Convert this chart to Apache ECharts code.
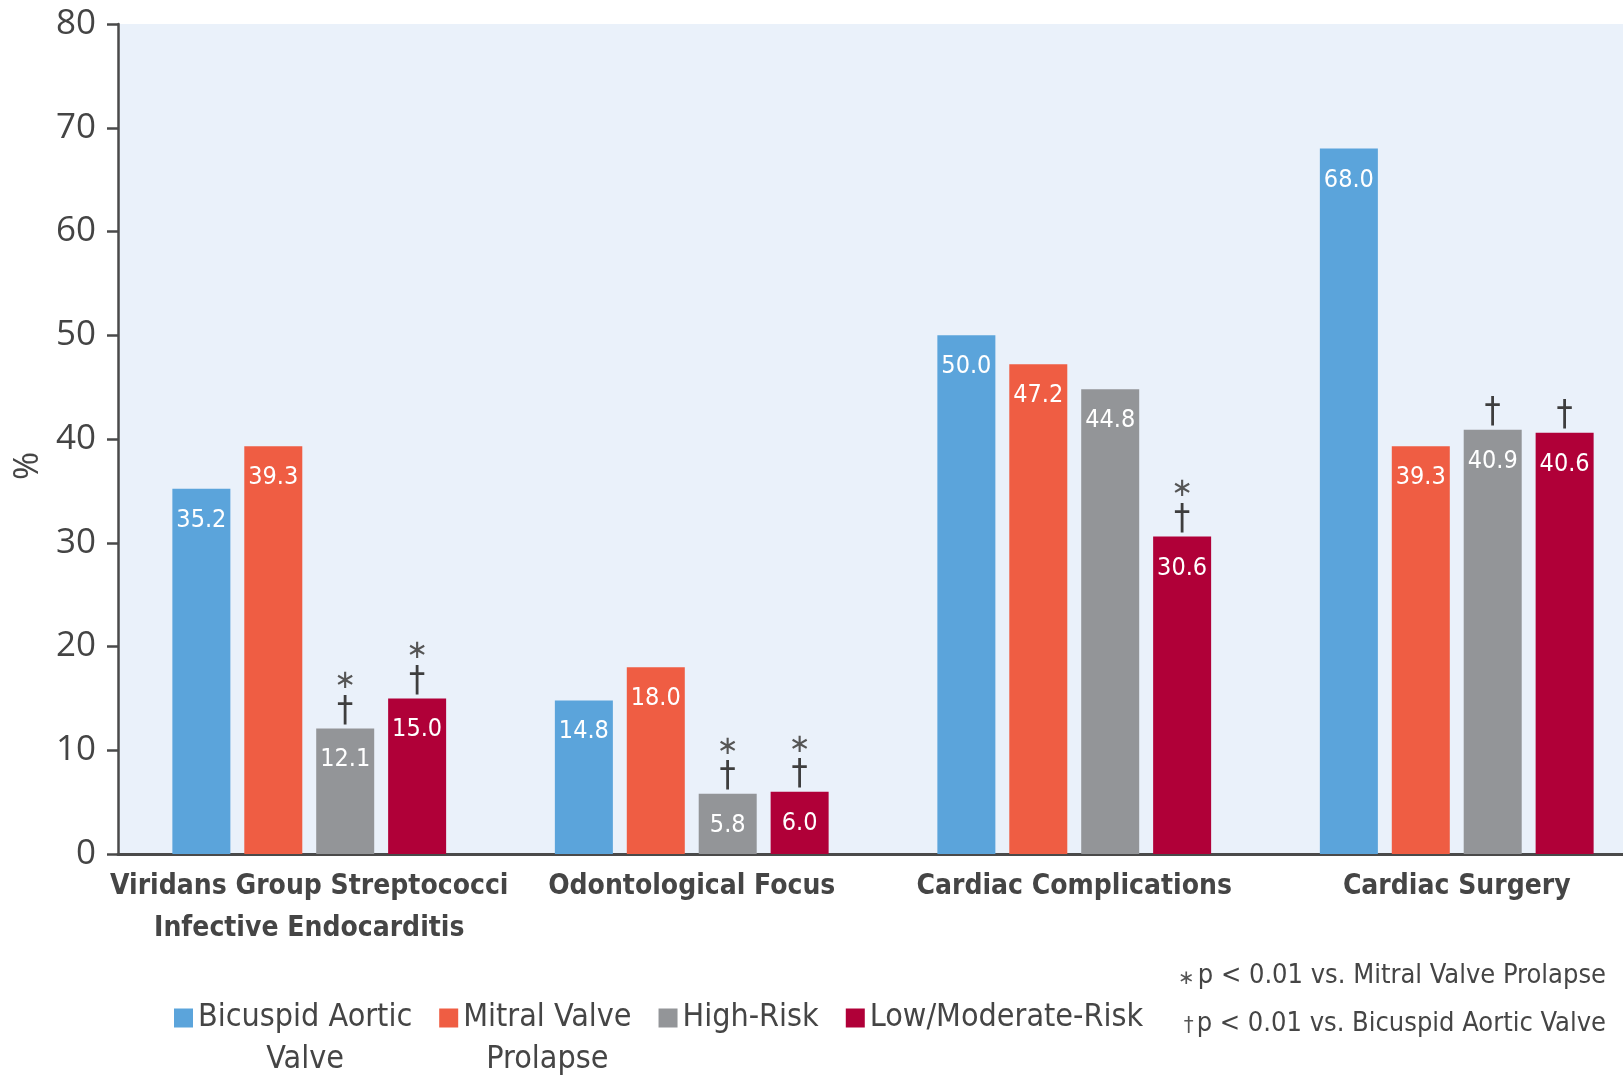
<!DOCTYPE html>
<html>
<head>
<meta charset="utf-8">
<script src="https://cdn.jsdelivr.net/npm/echarts@6/dist/echarts.min.js"></script>
<style>
  html, body { margin: 0; padding: 0; background: #fff; overflow: hidden; }
  /* 原图右侧被裁掉一截，画布比窗口宽一些 */
  #chart { width: 1650px; height: 1075px; }
</style>
</head>
<body>
<div id="chart"></div>
<script>
const categories = [
  'Viridans Group Streptococci\nInfective Endocarditis',
  'Odontological Focus',
  'Cardiac Complications',
  'Cardiac Surgery'
];
const seriesNames = ['Bicuspid Aortic Valve', 'Mitral Valve Prolapse', 'High-Risk', 'Low/Moderate-Risk'];
const bicuspidAortic = [35.2, 14.8, 50.0, 68.0];
const mitralProlapse = [39.3, 18.0, 47.2, 39.3];
const highRisk = [12.1, 5.8, 44.8, 40.9];
const lowModerateRisk = [15.0, 6.0, 30.6, 40.6];
// 显著性标记 (* vs MVP, † vs BAV)
const highRiskMarks = ['*†', '*†', '', '†'];
const lowModerateMarks = ['*†', '*†', '*†', '†'];
const yTicks = [0, 10, 20, 30, 40, 50, 60, 70, 80];

const colors = ['#5ba4db', '#ef5d43', '#939598', '#b00038'];
const narrow = "'DejaVu Sans Condensed', 'Liberation Sans Narrow', sans-serif";
const textColor = '#454545';

const chart = echarts.init(document.getElementById('chart'));

function mainSeries(name, data, color, stack) {
  return {
    name: name,
    type: 'bar',
    stack: stack,
    data: data,
    barWidth: 58,
    barGap: '24%',
    itemStyle: { color: color },
    label: {
      show: true,
      position: 'insideTop',
      distance: 19,
      color: '#fff',
      fontFamily: narrow,
      fontSize: 25,
      formatter: p => p.value.toFixed(1)
    }
  };
}

function markSeries(marks, stack) {
  return {
    type: 'bar',
    stack: stack,
    data: marks.map(() => 0),
    barWidth: 58,
    barGap: '24%',
    itemStyle: { color: 'transparent' },
    silent: true,
    label: {
      show: true,
      position: 'top',
      distance: 1,
      formatter: p => {
        const m = marks[p.dataIndex];
        if (!m) return '';
        const parts = [];
        if (m.indexOf('*') >= 0) parts.push('{s|∗}');
        if (m.indexOf('†') >= 0) parts.push('{d|†}');
        return parts.join('\n');
      },
      rich: {
        s: { fontFamily: 'DejaVu Sans', fontSize: 26, lineHeight: 28, color: '#555' },
        d: { fontFamily: narrow, fontSize: 36, lineHeight: 32, color: '#3e3e3e' }
      }
    }
  };
}

function legendName(name) {
  const lines = {
    'Bicuspid Aortic Valve': ['Bicuspid Aortic', 'Valve'],
    'Mitral Valve Prolapse': ['Mitral Valve', 'Prolapse']
  }[name] || [name, ' '];
  return '{a| }\n{a|' + lines[0] + '}\n{a|' + lines[1] + '}';
}

const option = {
  backgroundColor: '#fff',
  animation: false,
  grid: { left: 118, right: 2, top: 24, bottom: 221, show: true, backgroundColor: '#eaf1fa', borderWidth: 0 },
  legend: {
    data: seriesNames,
    left: 169,
    top: 955,
    itemWidth: 19,
    itemHeight: 19,
    itemGap: 27,
    icon: 'rect',
    formatter: legendName,
    textStyle: {
      rich: {
        a: { align: 'center', fontFamily: narrow, fontSize: 32, lineHeight: 42, color: textColor }
      }
    }
  },
  xAxis: {
    type: 'category',
    data: categories,
    axisLine: { lineStyle: { color: '#4a4a4a', width: 3 } },
    axisTick: { show: false },
    axisLabel: {
      interval: 0,
      margin: 12,
      color: textColor,
      fontFamily: narrow,
      fontWeight: 'bold',
      fontSize: 28,
      lineHeight: 42
    }
  },
  yAxis: {
    type: 'value',
    min: yTicks[0],
    max: yTicks[yTicks.length - 1],
    interval: 10,
    name: '%',
    nameLocation: 'middle',
    nameRotate: 90,
    nameGap: 64,
    nameTextStyle: { fontFamily: 'Open Sans', fontSize: 34, color: textColor, padding: [0, 54, 0, 0] },
    axisLine: { show: true, lineStyle: { color: '#4a4a4a', width: 2.5 } },
    axisTick: { show: true, inside: false, length: 11, lineStyle: { color: '#4a4a4a', width: 2.5 } },
    axisLabel: { margin: 22, color: '#444', fontFamily: 'Open Sans', fontSize: 35 },
    splitLine: { show: false }
  },
  series: [
    mainSeries(seriesNames[0], bicuspidAortic, colors[0], 'bav'),
    mainSeries(seriesNames[1], mitralProlapse, colors[1], 'mvp'),
    mainSeries(seriesNames[2], highRisk, colors[2], 'hr'),
    mainSeries(seriesNames[3], lowModerateRisk, colors[3], 'lm'),
    markSeries(highRiskMarks, 'hr'),
    markSeries(lowModerateMarks, 'lm')
  ],
  graphic: [
    {
      type: 'text',
      right: 44,
      top: 962,
      style: {
        text: '{s|∗}p < 0.01 vs. Mitral Valve Prolapse',
        rich: {
          s: { fontFamily: 'DejaVu Sans', fontSize: 20, fill: '#555', padding: [6, 3, 0, 0] }
        },
        fontFamily: narrow,
        fontSize: 27,
        fill: textColor
      }
    },
    {
      type: 'text',
      right: 44,
      top: 1010,
      style: {
        text: '{s|†}p < 0.01 vs. Bicuspid Aortic Valve',
        rich: {
          s: { fontFamily: narrow, fontSize: 22, fill: '#555', padding: [6, 3, 0, 0] }
        },
        fontFamily: narrow,
        fontSize: 27,
        fill: textColor
      }
    }
  ]
};

chart.setOption(option);
window.addEventListener('resize', () => chart.resize());
</script>
</body>
</html>
